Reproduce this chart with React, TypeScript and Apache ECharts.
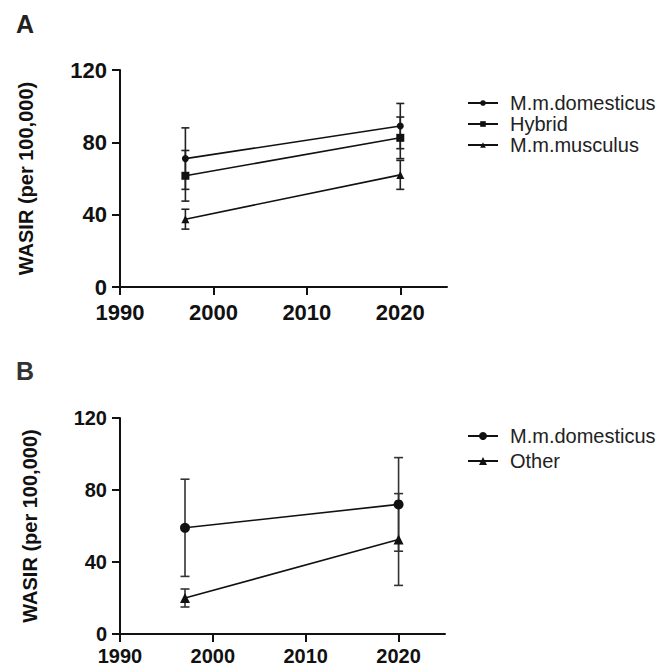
import React, { useEffect, useRef } from "react";
import * as echarts from "echarts";

const years = [1997, 2020];
const xTicks = [1990, 2000, 2010, 2020];

const aNames = ["M.m.domesticus", "Hybrid", "M.m.musculus"];
const aDomesticus = [71, 89];
const aDomesticusErr = [17, 12.5];
const aHybrid = [61.5, 82.5];
const aHybridErr = [14, 11.5];
const aMusculus = [37.5, 62];
const aMusculusErr = [5.5, 8];

const bNames = ["M.m.domesticus", "Other"];
const bDomesticus = [59, 72];
const bDomesticusErr = [27, 26];
const bOther = [20, 52.5];
const bOtherErr = [5, 25.5];

const FONT = "Liberation Sans, Arial, sans-serif";
const INK = "#111";

function pts(vals: number[]) {
  return years.map((y, i) => [y, vals[i]]);
}
function errs(vals: number[], e: number[]) {
  return years.map((y, i) => [y, vals[i] - e[i], vals[i] + e[i]]);
}

function errSeries(name: string, idx: number, data: number[][], cap: number, lw: number, color: string) {
  return {
    type: "custom",
    name,
    xAxisIndex: idx,
    yAxisIndex: idx,
    z: 1,
    encode: { x: 0, y: [1, 2] },
    data,
    renderItem: (params: any, api: any) => {
      const x = api.value(0);
      const lo = api.coord([x, api.value(1)]);
      const hi = api.coord([x, api.value(2)]);
      const st = { stroke: color, lineWidth: lw };
      return {
        type: "group",
        children: [
          { type: "line", shape: { x1: lo[0], y1: lo[1], x2: hi[0], y2: hi[1] }, style: st },
          { type: "line", shape: { x1: lo[0] - cap / 2, y1: lo[1], x2: lo[0] + cap / 2, y2: lo[1] }, style: st },
          { type: "line", shape: { x1: hi[0] - cap / 2, y1: hi[1], x2: hi[0] + cap / 2, y2: hi[1] }, style: st },
        ],
      };
    },
  };
}

function lineSeries(name: string, idx: number, vals: number[], symbol: string, size: number) {
  return {
    type: "line",
    name,
    xAxisIndex: idx,
    yAxisIndex: idx,
    z: 3,
    data: pts(vals),
    symbol,
    symbolSize: size,
    lineStyle: { color: INK, width: 1.6 },
    itemStyle: { color: INK },
  };
}

function xAxis(idx: number, fs: number, margin: number) {
  return {
    type: "value",
    gridIndex: idx,
    min: 1990,
    max: 2025,
    interval: 10,
    splitLine: { show: false },
    axisLine: { lineStyle: { color: INK, width: 2 } },
    axisTick: { length: 8, lineStyle: { color: INK, width: 2 }, customValues: xTicks },
    axisLabel: {
      customValues: xTicks,
      formatter: (v: number) => String(v),
      color: INK,
      fontFamily: FONT,
      fontWeight: "bold",
      fontSize: fs,
      margin,
    },
  };
}

function yAxis(idx: number, fs: number, nameGap: number) {
  return {
    type: "value",
    gridIndex: idx,
    min: 0,
    max: 120,
    interval: 40,
    name: "WASIR (per 100,000)",
    nameLocation: "middle",
    nameRotate: 90,
    nameGap,
    nameTextStyle: { color: INK, fontFamily: FONT, fontWeight: "bold", fontSize: 20 },
    splitLine: { show: false },
    axisLine: { show: true, lineStyle: { color: INK, width: 2 } },
    axisTick: { show: true, length: 8, lineStyle: { color: INK, width: 2 } },
    axisLabel: {
      color: INK,
      fontFamily: FONT,
      fontWeight: "bold",
      fontSize: fs,
      margin: 13,
    },
  };
}

export default function App() {
  const ref = useRef<HTMLDivElement>(null);
  useEffect(() => {
    if (!ref.current) return;
    const chart = echarts.init(ref.current, null, { renderer: "svg" });
    chart.setOption({
      animation: false,
      backgroundColor: "#fff",
      grid: [
        { left: 120, top: 70, width: 327, height: 217 },
        { left: 120, top: 418, width: 325, height: 216 },
      ],
      xAxis: [xAxis(0, 22, 14), xAxis(1, 20, 12)],
      yAxis: [yAxis(0, 22, 84), yAxis(1, 20, 80)],
      legend: [
        {
          orient: "vertical",
          left: 462,
          top: 88,
          itemWidth: 30,
          itemHeight: 7,
          itemGap: 1,
          selectedMode: false,
          data: aNames,
          textStyle: { color: "#222", fontFamily: FONT, fontSize: 20, padding: [0, 0, 0, 7] },
        },
        {
          orient: "vertical",
          left: 462,
          top: 421,
          itemWidth: 30,
          itemHeight: 10,
          itemGap: 5,
          selectedMode: false,
          data: bNames,
          textStyle: { color: "#222", fontFamily: FONT, fontSize: 20, padding: [0, 0, 0, 7] },
        },
      ],
      graphic: [
        { type: "text", left: 16, top: 11, style: { text: "A", fill: "#222", font: `bold 25px ${FONT}` } },
        { type: "text", left: 16, top: 358, style: { text: "B", fill: "#333", font: `bold 25px ${FONT}` } },
      ],
      series: [
        errSeries("eA1", 0, errs(aDomesticus, aDomesticusErr), 8, 1.6, "#222"),
        errSeries("eA2", 0, errs(aHybrid, aHybridErr), 8, 1.6, "#222"),
        errSeries("eA3", 0, errs(aMusculus, aMusculusErr), 8, 1.6, "#222"),
        lineSeries(aNames[0], 0, aDomesticus, "circle", 7),
        lineSeries(aNames[1], 0, aHybrid, "rect", 8),
        lineSeries(aNames[2], 0, aMusculus, "triangle", 8),
        errSeries("eB1", 1, errs(bDomesticus, bDomesticusErr), 9, 1.6, "#333"),
        errSeries("eB2", 1, errs(bOther, bOtherErr), 9, 1.6, "#333"),
        lineSeries(bNames[0], 1, bDomesticus, "circle", 10),
        lineSeries(bNames[1], 1, bOther, "triangle", 10),
      ],
    });
    return () => chart.dispose();
  }, []);
  return (
    <div
      ref={ref}
      style={{ position: "fixed", left: 0, top: 0, width: 657, height: 666 }}
    />
  );
}
